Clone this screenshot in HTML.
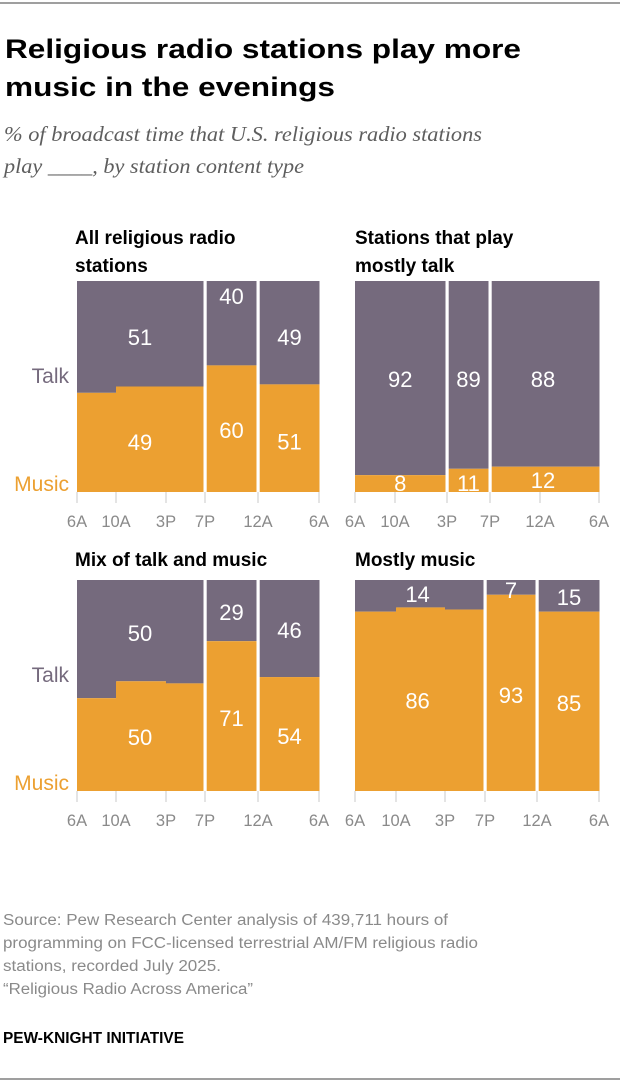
<!DOCTYPE html>
<html><head><meta charset="utf-8">
<style>
html,body{margin:0;padding:0;background:#fff;}
svg{display:block;font-family:"Liberation Sans",sans-serif;}
</style></head>
<body>
<svg id="chart" width="620" height="1084" viewBox="0 0 620 1084">
  <line x1="0" y1="3" x2="620" y2="3" stroke="#666" stroke-width="1.2"/>
  <text x="5" y="58" font-size="27" font-weight="bold" fill="#000" textLength="516" lengthAdjust="spacingAndGlyphs">Religious radio stations play more</text>
  <text x="5" y="96" font-size="27" font-weight="bold" fill="#000" textLength="330" lengthAdjust="spacingAndGlyphs">music in the evenings</text>
  <text x="4" y="141" font-size="21" font-style="italic" fill="#5e5e5e" font-family="Liberation Serif, serif" textLength="478" lengthAdjust="spacingAndGlyphs">% of broadcast time that U.S. religious radio stations</text>
  <text x="4" y="173" font-size="21" font-style="italic" fill="#5e5e5e" font-family="Liberation Serif, serif" textLength="300" lengthAdjust="spacingAndGlyphs">play ____, by station content type</text>

  <text x="3" y="925" font-size="15.5" fill="#8a8a8a" textLength="445" lengthAdjust="spacingAndGlyphs">Source: Pew Research Center analysis of 439,711 hours of</text>
  <text x="3" y="948" font-size="15.5" fill="#8a8a8a" textLength="475" lengthAdjust="spacingAndGlyphs">programming on FCC-licensed terrestrial AM/FM religious radio</text>
  <text x="3" y="971" font-size="15.5" fill="#8a8a8a" textLength="218" lengthAdjust="spacingAndGlyphs">stations, recorded July 2025.</text>
  <text x="3" y="994" font-size="15.5" fill="#8a8a8a" textLength="250" lengthAdjust="spacingAndGlyphs">“Religious Radio Across America”</text>
  <text x="3" y="1043" font-size="16" font-weight="bold" fill="#000" textLength="181" lengthAdjust="spacingAndGlyphs">PEW-KNIGHT INITIATIVE</text>
  <line x1="0" y1="1079" x2="620" y2="1079" stroke="#666" stroke-width="1.2"/>
  <g id="panels"></g>
</svg>
<script>
// ---- data ----
const panelTitles = [["All religious radio","stations"],["Stations that play","mostly talk"],["Mix of talk and music"],["Mostly music"]];
const tickLabels = ["6A","10A","3P","7P","12A","6A"];
const tickHours = [0,4,9,13,18,24];
// step segments per panel: start hour, end hour
const stepStart = [[0,4,9,13,18],[0,9,13],[0,4,9,13,18],[0,4,9,13,18]];
const stepEnd   = [[4,9,13,18,24],[9,13,24],[4,9,13,18,24],[4,9,13,18,24]];
// music share (%) per step; talk = 100 - music
const musicValues = [[47,50,50,60,51],[8,11,12],[44,52,51,71,54],[85,87,86,93,85]];
// white break lines between day parts (hours)
const gapHours = [[13,18],[9,13],[13,18],[13,18]];
// printed value labels
const labelText = [["51","49","40","60","49","51"],["92","8","89","11","88","12"],["50","50","29","71","46","54"],["14","86","7","93","15","85"]];
const labelHour = [[6.4,6.4,15.5,15.5,21.1,21.1],[4.5,4.5,11,11,18.3,18.3],[6.4,6.4,15.5,15.5,21.1,21.1],[6.2,6.2,15.5,15.5,21.1,21.1]];
const labelValue = [[73.5,23.7,92.9,29.4,73.5,24],[53.6,4.3,53.6,4.3,53.6,5.7],[74.9,25.6,84.8,34.6,76.3,26],[93.4,43,95.3,45.5,91.9,41.7]];

// ---- layout ----
const layout = [
  {tickPx:[77,116,166,205,258,319], top:281, bottom:492, titleX:75, titleY:244, yLabels:true},
  {tickPx:[355,395,447,490,540,599], top:281, bottom:492, titleX:355, titleY:244, yLabels:false},
  {tickPx:[77,116,166,205,258,319], top:580, bottom:791, titleX:75, titleY:566, yLabels:true},
  {tickPx:[355,396,445,485,537,599], top:580, bottom:791, titleX:355, titleY:566, yLabels:false}
];
const TALK="#756a7d", MUSIC="#eca031";
const NS="http://www.w3.org/2000/svg";
const root=document.getElementById('panels');
function mk(tag,attrs,parent){const e=document.createElementNS(NS,tag);for(const k in attrs)e.setAttribute(k,attrs[k]);(parent||root).appendChild(e);return e;}
function xScale(p,h){const L=layout[p];for(let i=0;i<tickHours.length-1;i++){if(h<=tickHours[i+1]){const t=(h-tickHours[i])/(tickHours[i+1]-tickHours[i]);return L.tickPx[i]+t*(L.tickPx[i+1]-L.tickPx[i]);}}return L.tickPx[L.tickPx.length-1];}
function yScale(p,v){const L=layout[p];return L.bottom-(v/100)*(L.bottom-L.top);}

for(let p=0;p<4;p++){
  const L=layout[p];
  const g=mk('g',{});
  
  
  panelTitles[p].forEach((t,i)=>{
    const tx=mk('text',{x:L.titleX,y:L.titleY+i*28,'font-size':19,'font-weight':'bold',fill:'#000'},g);
    tx.textContent=t;
    
    
  });
  for(let s=0;s<musicValues[p].length;s++){
    const x0=xScale(p,stepStart[p][s]), x1=xScale(p,stepEnd[p][s]);
    const ym=yScale(p,musicValues[p][s]);
    const rt=mk('rect',{x:x0,y:L.top,width:x1-x0+0.5,height:ym-L.top,fill:TALK},g);
    
    
    const rm=mk('rect',{x:x0,y:ym,width:x1-x0+0.5,height:L.bottom-ym,fill:MUSIC},g);
    
    
  }
  gapHours[p].forEach(h=>{
    const gx=xScale(p,h);
    const r=mk('rect',{x:gx-1.5,y:L.top-1,width:3.2,height:L.bottom-L.top+2,fill:'#fff'},g);
    
    
  });
  tickHours.forEach((h,i)=>{
    const x=xScale(p,h);
    const ln=mk('line',{x1:x,y1:L.bottom,x2:x,y2:L.bottom+11,stroke:'#c8c8c8','stroke-width':1},g);
    
    
    const t=mk('text',{x:x,y:L.bottom+35,'font-size':16.5,fill:'#8a8a8a','text-anchor':'middle'},g);
    t.textContent=tickLabels[i];
    
    
  });
  labelText[p].forEach((lt,i)=>{
    const t=mk('text',{x:xScale(p,labelHour[p][i]),y:yScale(p,labelValue[p][i])+8,'font-size':22,fill:'#fff','text-anchor':'middle'},g);
    t.textContent=lt;
    
    
  });
  if(L.yLabels){
    const tk=mk('text',{x:69,y:L.top+102,'font-size':21,fill:TALK,'text-anchor':'end'},g);
    tk.textContent='Talk';
    
    
    const mu=mk('text',{x:69,y:L.top+210,'font-size':21,fill:MUSIC,'text-anchor':'end'},g);
    mu.textContent='Music';
    
    
  }
}
</script>
</body></html>
